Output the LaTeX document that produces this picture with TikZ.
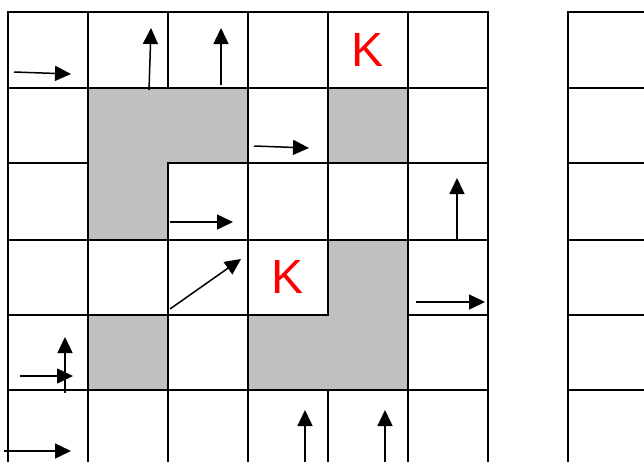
\documentclass[tikz,border=0pt]{standalone}
\usepackage{fontspec}
\setmainfont{Liberation Sans}
\usetikzlibrary{arrows.meta}
\definecolor{cellgray}{RGB}{192,192,192}
\begin{document}
\begin{tikzpicture}[
  x=1pt, y=-1pt,
  %% Grid lines of the boards
  gridline/.style={line width=2.5pt, line cap=rect},
  %% Shaded (blocked) cells, outline redrawn on top
  block/.style={fill=cellgray, draw=black, line width=2.5pt},
  %% Red K marks
  kmark/.style={text=red, font=\fontsize{48}{48}\selectfont, inner sep=0pt},
  %% Move arrows
  arr/.style={-{Triangle[length=16pt, width=15pt]}, line width=1.5pt}
]
\useasboundingbox (0,0) rectangle (644,461);
\clip (0,0) rectangle (644,461);

%% ── Left board: 6 columns, rows run off the bottom ──────────────────────
\foreach \y in {12,88,163,240,315,390}
  \draw[gridline] (8,\y) -- (488,\y);
\foreach \x in {8,88,...,488}
  \draw[gridline] (\x,12) -- (\x,470);

%% ── Right board: only its left edge is visible ──────────────────────────
\foreach \y in {12,88,163,240,315,390}
  \draw[gridline] (568,\y) -- (650,\y);
\draw[gridline] (568,12) -- (568,470);

%% ── Blocked cells (merged groups have no inner lines) ───────────────────
\draw[block] (88,88) -- (248,88) -- (248,163) -- (168,163)
             -- (168,240) -- (88,240) -- cycle;
\draw[block] (328,88) rectangle (408,163);
\draw[block] (88,315) rectangle (168,390);
\draw[block] (328,240) -- (408,240) -- (408,390) -- (248,390)
             -- (248,315) -- (328,315) -- cycle;

%% ── K marks ─────────────────────────────────────────────────────────────
\node[kmark] (ktop) at (368,50)  {K};
\node[kmark] (kmid) at (288,277) {K};

%% ── Arrows: start x / start y / tip x / tip y ───────────────────────────
\foreach \xa/\ya/\xb/\yb in {14/72/71/74, 149/90/151/28, 221/85/221/28,
    254/146/309/148, 170/222/233/222, 170/309/241/259,
    457/240/457/178, 416/302/485/302, 65/393/65/337,
    20/376/73/376, 4/451/71/451, 305/465/305/410, 385/465/385/410}
  \draw[arr] (\xa,\ya) -- (\xb,\yb);

\end{tikzpicture}
\end{document}
